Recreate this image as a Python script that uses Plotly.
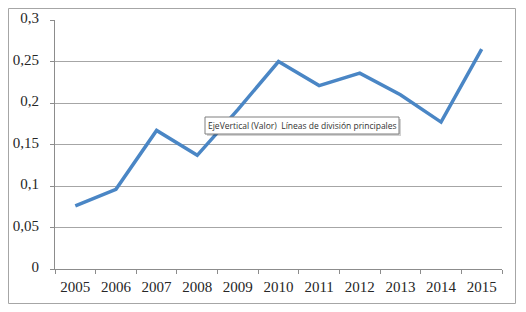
import plotly.graph_objects as go

years = ["2005", "2006", "2007", "2008", "2009", "2010", "2011", "2012", "2013", "2014", "2015"]
values = [0.076, 0.096, 0.167, 0.137, 0.192, 0.250, 0.221, 0.236, 0.210, 0.177, 0.265]
y_tickvals = [0, 0.05, 0.1, 0.15, 0.2, 0.25, 0.3]
y_ticktext = ["0", "0,05", "0,1", "0,15", "0,2", "0,25", "0,3"]
tooltip_text = "EjeVertical (Valor)  Líneas de división principales"

fig = go.Figure()
fig.add_trace(go.Scatter(
    x=years, y=values, mode="lines",
    line=dict(color="#4A86C5", width=3.5),
    hoverinfo="skip",
))

# the page body adds an 8px offset; work in page pixels
OFF = 8
W, H = 526 - 2 * OFF, 312 - 2 * OFF
plot_left, plot_right, plot_top, plot_bottom = 55, 502, 20, 269
L = plot_left - OFF
T = plot_top - OFF
R = OFF + W - plot_right
B = OFF + H - plot_bottom
pw, ph = plot_right - plot_left, plot_bottom - plot_top

def px_x(px):
    return (px - plot_left) / pw

def px_y(py):
    return (plot_bottom - py) / ph

fig.update_layout(
    width=W, height=H,
    margin=dict(l=L, r=R, t=T, b=B, autoexpand=False),
    paper_bgcolor="white", plot_bgcolor="white",
    showlegend=False,
    font=dict(family="Liberation Serif", size=15, color="#262626"),
    xaxis=dict(
        type="category", tickson="boundaries",
        showline=True, linecolor="#8c8c8c", linewidth=1,
        ticks="outside", ticklen=4, tickcolor="#8c8c8c",
        showgrid=False, zeroline=False, automargin=False,
        range=[-0.5, 10.5], ticklabelstandoff=4,
    ),
    yaxis=dict(
        range=[0, 0.3], tickvals=y_tickvals, ticktext=y_ticktext,
        showline=True, linecolor="#8c8c8c", linewidth=1,
        ticks="outside", ticklen=4, tickcolor="#8c8c8c",
        showgrid=True, gridcolor="#a6a6a6", gridwidth=1,
        zeroline=False, automargin=False,
        ticklabelstandoff=8, ticklabelshift=-2,
    ),
    shapes=[
        dict(type="rect", xref="paper", yref="paper",
             x0=px_x(8.5), x1=px_x(515.5), y0=px_y(303.5), y1=px_y(8.5),
             line=dict(color="#a6a6a6", width=1), fillcolor="rgba(0,0,0,0)", layer="below"),
        # tooltip shadow
        dict(type="rect", xref="paper", yref="paper",
             x0=px_x(207), x1=px_x(401), y0=px_y(136), y1=px_y(119),
             line=dict(width=0), fillcolor="rgba(0,0,0,0.18)"),
        dict(type="rect", xref="paper", yref="paper",
             x0=px_x(205), x1=px_x(399), y0=px_y(134), y1=px_y(117),
             line=dict(color="#7f7f7f", width=1), fillcolor="white"),
    ],
    annotations=[
        dict(text=tooltip_text, xref="paper", yref="paper",
             x=px_x(302), y=px_y(125.5), xanchor="center", yanchor="middle",
             showarrow=False,
             font=dict(family="Open Sans", size=8.5, color="#333333")),
    ],
)

fig.write_html("out.html")
